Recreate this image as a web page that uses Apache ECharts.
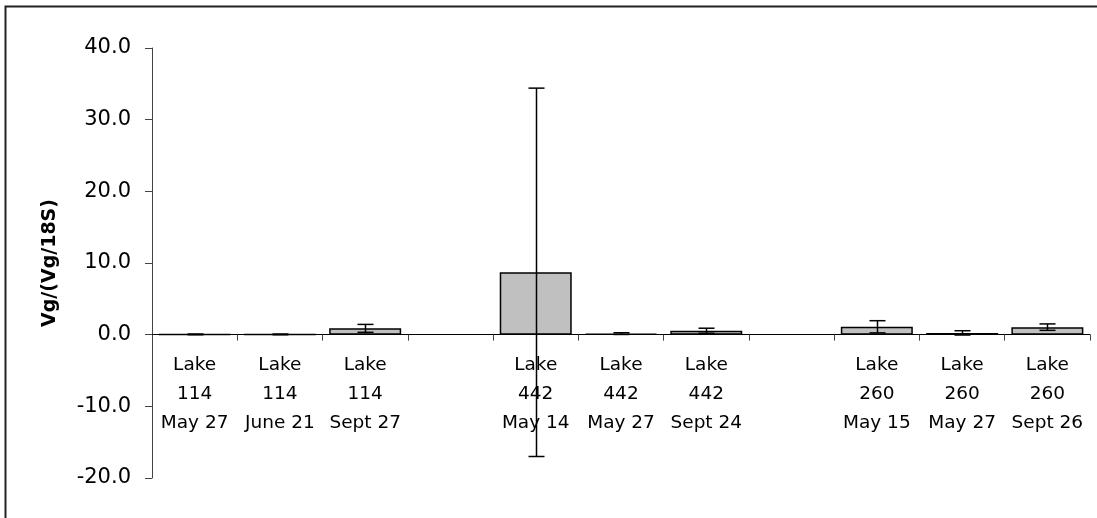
<!DOCTYPE html>
<html>
<head>
<meta charset="utf-8">
<script src="https://cdn.jsdelivr.net/npm/echarts@6/dist/echarts.min.js"></script>
<style>
html,body{margin:0;padding:0;background:#fff;overflow:hidden;}
#c{width:1097px;height:518px;}
</style>
</head>
<body>
<div id="c"></div>
<script>
var lakes = ['114','114','114','','442','442','442','','260','260','260'];
var dates = ['May 27','June 21','Sept 27','','May 14','May 27','Sept 24','','May 15','May 27','Sept 26'];
var values = [0.04, 0.04, 0.88, null, 8.7, 0.15, 0.55, null, 1.1, 0.25, 1.05];
var errors = [0.05, 0.05, 0.55, null, 25.7, 0.12, 0.35, null, 0.85, 0.3, 0.45];
var yTicks = [-20, -10, 0, 10, 20, 30, 40];

var categories = lakes.map(function(l, i){ return l ? ('Lake\n' + l + '\n' + dates[i]) : ''; });
var errData = values.map(function(v, i){ return v == null ? null : [i, v - errors[i], v + errors[i]]; }).filter(function(d){return d;});

var chart = echarts.init(document.getElementById('c'));
chart.setOption({
  animation: false,
  graphic: [{
    type: 'polyline',
    shape: {points: [[5.5, 520], [5.5, 6.5], [1097, 6.5]]},
    style: {fill: 'none', stroke: '#222', lineWidth: 2}
  }],
  grid: {left: 152, right: 7, top: 48, bottom: 40, containLabel: false, outerBoundsMode: 'none'},
  xAxis: {
    type: 'category',
    data: categories,
    axisLine: {onZero: true, lineStyle: {color: '#000', width: 1}},
    axisTick: {show: true, length: 6, lineStyle: {color: '#444'}},
    axisLabel: {
      interval: 0, margin: -127, lineHeight: 29,
      fontFamily: 'DejaVu Sans', fontSize: 18.5, color: '#000'
    }
  },
  yAxis: {
    type: 'value',
    min: yTicks[0], max: yTicks[yTicks.length - 1], interval: 10,
    name: 'Vg/(Vg/18S)',
    nameLocation: 'middle',
    nameGap: 92,
    nameRotate: 90,
    nameTextStyle: {fontFamily: 'DejaVu Sans', fontWeight: 'bold', fontSize: 19, color: '#000'},
    axisLine: {show: true, lineStyle: {color: '#444', width: 1}},
    axisTick: {show: true, length: 7, lineStyle: {color: '#444'}},
    splitLine: {show: false},
    axisLabel: {
      margin: 21, fontFamily: 'DejaVu Sans', fontSize: 21, color: '#000',
      formatter: function(v){ return v.toFixed(1); }
    }
  },
  series: [{
    type: 'bar',
    data: values,
    barWidth: 72,
    itemStyle: {color: '#c0c0c0', borderColor: '#000', borderWidth: 1.5},
    z: 2
  }, {
    type: 'custom',
    data: errData,
    z: 5,
    renderItem: function(params, api){
      var x = api.value(0);
      var lo = api.coord([x, api.value(1)]);
      var hi = api.coord([x, api.value(2)]);
      var cx = Math.round(lo[0]) + 0.5;
      var w = 8;
      var st = {stroke: '#000', lineWidth: 1.5};
      return {type: 'group', children: [
        {type: 'line', shape: {x1: cx, y1: lo[1], x2: cx, y2: hi[1]}, style: st},
        {type: 'line', shape: {x1: cx - w, y1: lo[1], x2: cx + w, y2: lo[1]}, style: st},
        {type: 'line', shape: {x1: cx - w, y1: hi[1], x2: cx + w, y2: hi[1]}, style: st}
      ]};
    }
  }]
});
</script>
</body>
</html>
